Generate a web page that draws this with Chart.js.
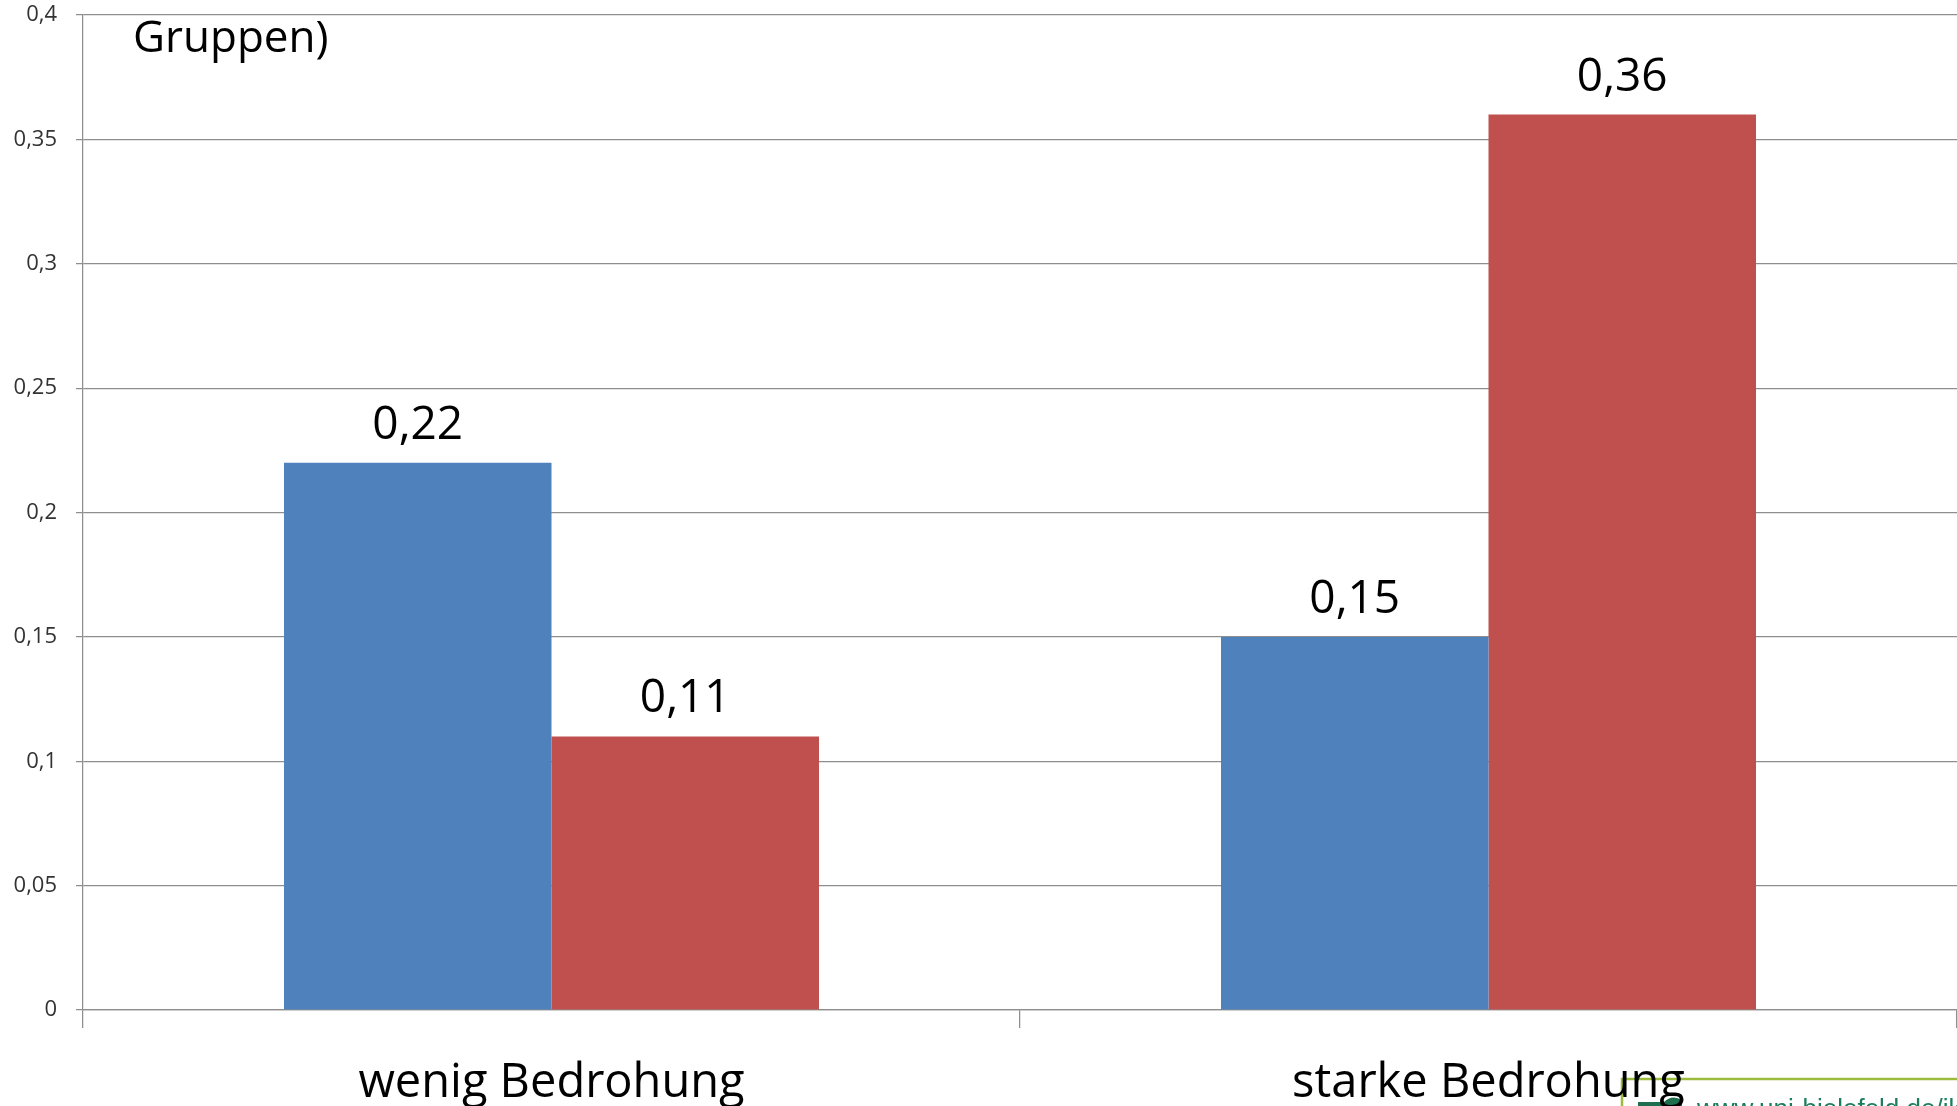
<!DOCTYPE html>
<html>
<head>
<meta charset="utf-8">
<script src="https://cdn.jsdelivr.net/npm/chart.js@4/dist/chart.umd.min.js"></script>
<style>
  html, body { margin: 0; padding: 0; background: #ffffff; overflow: hidden; }
  #wrap { width: 1957px; height: 1106px; position: relative; }
  canvas { display: block; }
</style>
</head>
<body>
<div id="wrap"><canvas id="chart" width="1957" height="1106"></canvas></div>
<script>
// Categories and series values
const categories = ['wenig Bedrohung', 'starke Bedrohung'];
const seriesNames = ['Reihe 1', 'Reihe 2'];
const seriesBlue = [0.22, 0.15];
const seriesRed = [0.11, 0.36];

// Y axis ticks and their German-formatted labels
const yTickValues = [0, 0.05, 0.1, 0.15, 0.2, 0.25, 0.3, 0.35, 0.4];
const yTickLabels = ['0', '0,05', '0,1', '0,15', '0,2', '0,25', '0,3', '0,35', '0,4'];

// Texts around the plot
const titleTail = 'Gruppen)';
const footerLink = 'www.uni-bielefeld.de/ikg';

const FONT = '"Open Sans", "DejaVu Sans", sans-serif';
const GRID = '#8e8e8e';

// Value labels above every bar, German decimal comma
const valueLabels = {
  id: 'valueLabels',
  afterDatasetsDraw(chart) {
    const ctx = chart.ctx;
    ctx.save();
    ctx.font = '46px ' + FONT;
    ctx.fillStyle = '#000000';
    ctx.textAlign = 'center';
    ctx.textBaseline = 'alphabetic';
    chart.data.datasets.forEach((ds, i) => {
      chart.getDatasetMeta(i).data.forEach((bar, j) => {
        ctx.fillText(String(ds.data[j]).replace('.', ','), bar.x, bar.y - 24);
      });
    });
    ctx.restore();
  }
};

// Partial title in the top-left corner and the link box at the bottom right
const decorations = {
  id: 'decorations',
  beforeDraw(chart) {
    const ctx = chart.ctx;
    ctx.save();
    // link box
    ctx.fillStyle = '#ffffff';
    ctx.fillRect(1622, 1079, 400, 60);
    ctx.strokeStyle = '#9bbb3c';
    ctx.lineWidth = 2.5;
    ctx.beginPath();
    ctx.moveTo(1622, 1120);
    ctx.lineTo(1622, 1079);
    ctx.lineTo(1970, 1079);
    ctx.stroke();
    // small icon
    ctx.fillStyle = '#1f6f4f';
    ctx.beginPath();
    ctx.moveTo(1638, 1102);
    ctx.lineTo(1664, 1102);
    ctx.quadraticCurveTo(1672, 1094, 1682, 1100);
    ctx.lineTo(1682, 1112);
    ctx.lineTo(1638, 1112);
    ctx.closePath();
    ctx.fill();
    // link text
    ctx.fillStyle = '#1b7d5e';
    ctx.font = '26px "Liberation Sans", Arial, sans-serif';
    ctx.textAlign = 'left';
    ctx.textBaseline = 'alphabetic';
    ctx.fillText(footerLink, 1697, 1117);
    ctx.restore();
  },
  afterDraw(chart) {
    const ctx = chart.ctx;
    ctx.save();
    ctx.fillStyle = '#000000';
    ctx.font = '44px ' + FONT;
    ctx.textAlign = 'left';
    ctx.textBaseline = 'alphabetic';
    ctx.fillText(titleTail, 133, 52);
    ctx.restore();
  }
};

new Chart(document.getElementById('chart'), {
  type: 'bar',
  data: {
    labels: categories,
    datasets: [
      { label: seriesNames[0], data: seriesBlue, backgroundColor: '#4f81bd', borderWidth: 0 },
      { label: seriesNames[1], data: seriesRed, backgroundColor: '#c0504d', borderWidth: 0 }
    ]
  },
  options: {
    responsive: false,
    animation: false,
    devicePixelRatio: 1,
    layout: { padding: { top: 15, right: 0, left: 0, bottom: 0 } },
    plugins: {
      legend: { display: false },
      title: { display: false },
      tooltip: { enabled: false }
    },
    datasets: {
      bar: { categoryPercentage: 0.571, barPercentage: 1.0 }
    },
    scales: {
      x: {
        offset: true,
        grid: {
          offset: true,
          drawOnChartArea: false,
          drawTicks: true,
          tickLength: 18,
          color: GRID,
          lineWidth: 1.25
        },
        border: { display: true, color: GRID, width: 1.25 },
        ticks: {
          color: '#000000',
          font: { family: FONT, size: 47 },
          padding: 27,
          maxRotation: 0
        },
        afterFit(scale) {
          scale.height = 96;
          scale.paddingLeft = 0;
          scale.paddingRight = 0;
        }
      },
      y: {
        min: 0,
        max: 0.4,
        afterBuildTicks(scale) {
          scale.ticks = yTickValues.map(v => ({ value: v }));
        },
        grid: {
          color: GRID,
          lineWidth: 1.25,
          drawTicks: true,
          tickLength: 7
        },
        border: { display: true, color: GRID, width: 1.25 },
        ticks: {
          color: '#333333',
          font: { family: FONT, size: 22 },
          padding: 19,
          callback(value, index) { return yTickLabels[index]; }
        },
        afterFit(scale) {
          scale.width = 83;
          scale.paddingTop = 0;
          scale.paddingBottom = 0;
        }
      }
    }
  },
  plugins: [decorations, valueLabels]
});
</script>
</body>
</html>
